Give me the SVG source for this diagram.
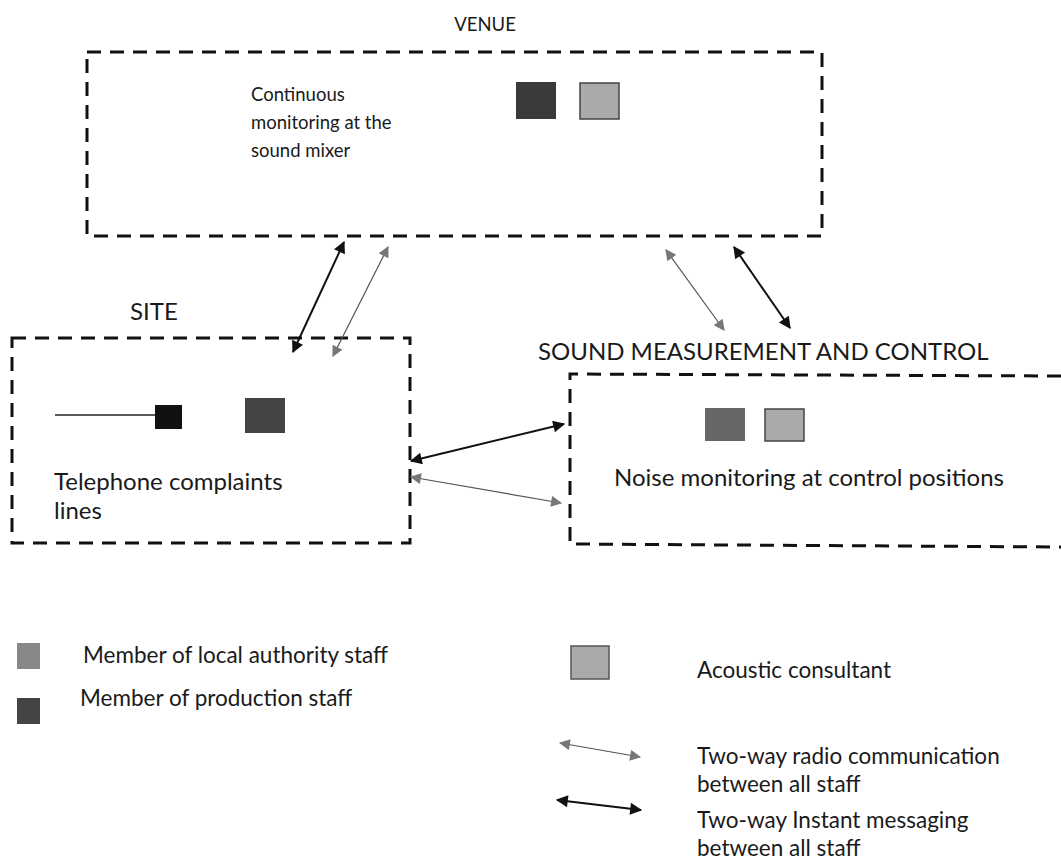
<svg xmlns="http://www.w3.org/2000/svg" width="1061" height="860" viewBox="0 0 1061 860">
<style>
.box{fill:none;stroke:#111;stroke-width:3;stroke-dasharray:14 9}
.t{font-family:Lato,"Open Sans","Liberation Sans",sans-serif;font-size:18.5px;fill:#1a1a1a}
.b{font-family:Lato,"Open Sans","Liberation Sans",sans-serif;font-size:24px;fill:#1a1a1a}
.lg{font-family:Lato,"Liberation Sans",sans-serif;font-size:22.5px;fill:#1a1a1a}
.im{stroke:#111;stroke-width:2;fill:none;marker-start:url(#hb);marker-end:url(#hb)}
.rd{stroke:#555;stroke-width:1.2;fill:none;marker-start:url(#hg);marker-end:url(#hg)}
</style>
<defs>
<marker id="hb" viewBox="0 0 10 10" refX="9" refY="5" markerWidth="15" markerHeight="12" markerUnits="userSpaceOnUse" orient="auto-start-reverse"><path d="M0,0 L10,5 L0,10 z" fill="#111"/></marker>
<marker id="hg" viewBox="0 0 10 10" refX="9" refY="5" markerWidth="13" markerHeight="11" markerUnits="userSpaceOnUse" orient="auto-start-reverse"><path d="M0,0 L10,5 L0,10 z" fill="#777"/></marker>
</defs>
<rect width="1061" height="860" fill="#fff"/>

<g id="venue">
<rect class="box" x="87" y="52" width="735" height="184"/>
<text class="t" x="485" y="31" text-anchor="middle">VENUE</text>
<text class="t" x="251" y="101">Continuous</text>
<text class="t" x="251" y="129">monitoring at the</text>
<text class="t" x="251" y="157">sound mixer</text>
<rect x="516" y="82" width="40" height="37" fill="#3a3a3a"/>
<rect x="580" y="83" width="39" height="36" fill="#aaa" stroke="#444" stroke-width="1.5"/>
</g>

<g id="site">
<rect class="box" x="12" y="338" width="398" height="205"/>
<text class="b" x="130" y="320">SITE</text>
<line x1="55" y1="415" x2="156" y2="415" stroke="#222" stroke-width="1.5"/>
<rect x="155" y="405" width="27" height="24" fill="#111"/>
<rect x="245" y="398" width="40" height="35" fill="#444"/>
<text class="b" x="54" y="490">Telephone complaints</text>
<text class="b" x="54" y="519">lines</text>
</g>

<g id="sound">
<path class="box" d="M1061,376 L570,374 L570,544 L1061,547"/>
<text class="b" x="538" y="360">SOUND MEASUREMENT AND CONTROL</text>
<rect x="705" y="408" width="40" height="33" fill="#666"/>
<rect x="765" y="409" width="39" height="32" fill="#aaa" stroke="#444" stroke-width="1.5"/>
<text class="b" x="614" y="486">Noise monitoring at control positions</text>
</g>

<g id="connectors">
<line class="im" x1="293" y1="352" x2="344" y2="242"/>
<line class="rd" x1="333" y1="356" x2="388" y2="247"/>
<line class="rd" x1="666" y1="250" x2="724" y2="330"/>
<line class="im" x1="734" y1="247" x2="790" y2="328"/>
<line class="im" x1="411" y1="461" x2="564" y2="424"/>
<line class="rd" x1="411" y1="477" x2="561" y2="503"/>
</g>

<g id="legend">
<rect x="17" y="643" width="23" height="26" fill="#888"/>
<text class="lg" x="83" y="663">Member of local authority staff</text>
<rect x="17" y="698" width="23" height="26" fill="#444"/>
<text class="lg" x="80" y="706">Member of production staff</text>
<rect x="571" y="646" width="38" height="33" fill="#aaa" stroke="#555" stroke-width="1.5"/>
<text class="lg" x="697" y="678">Acoustic consultant</text>
<line class="rd" x1="560" y1="743" x2="640" y2="757"/>
<text class="lg" x="697" y="764">Two-way radio communication</text>
<text class="lg" x="697" y="792">between all staff</text>
<line class="im" x1="557" y1="800" x2="641" y2="810"/>
<text class="lg" x="697" y="828">Two-way Instant messaging</text>
<text class="lg" x="697" y="856">between all staff</text>
</g>
</svg>
